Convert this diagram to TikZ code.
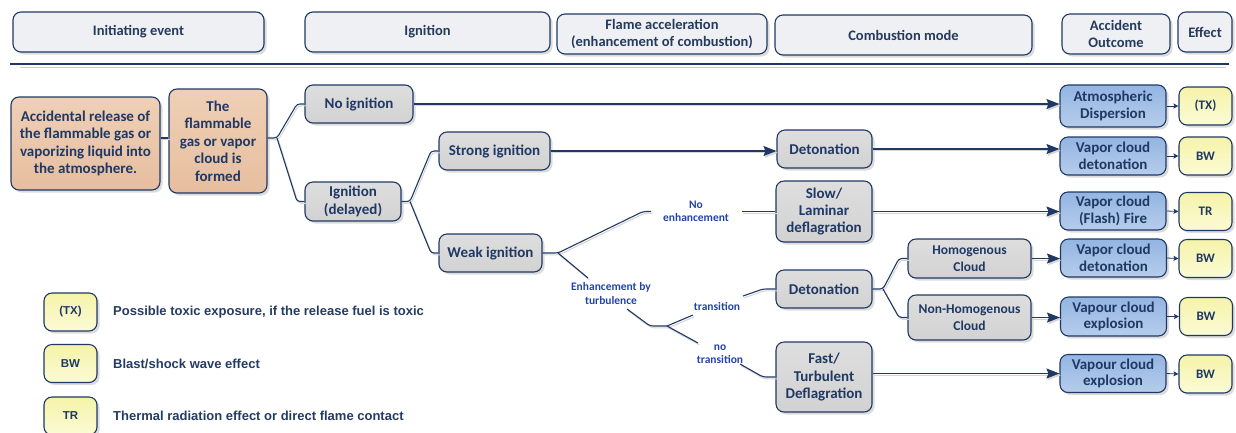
\documentclass[tikz,border=0pt]{standalone}
\usepackage{fontspec}
\setmainfont{Carlito}
\newfontfamily\legendfont{Liberation Sans}
\usetikzlibrary{arrows.meta,shadows}

\definecolor{navy}{HTML}{1F3864}
\definecolor{hdrtext}{HTML}{263A5C}
\definecolor{hdrfill}{HTML}{EEF0F4}
\definecolor{peachtop}{HTML}{EFD0B6}
\definecolor{peachbot}{HTML}{E6BE9F}
\definecolor{greytop}{HTML}{DEDEDE}
\definecolor{greybot}{HTML}{D2D2D2}
\definecolor{bluetop}{HTML}{93B5E2}
\definecolor{bluebot}{HTML}{B6CDEB}
\definecolor{yeltop}{HTML}{F5F3A8}
\definecolor{yelbot}{HTML}{FBFBD6}
\definecolor{lblblue}{HTML}{2244AA}
\definecolor{legtext}{HTML}{243B63}

\tikzset{
  basebox/.style={draw=navy, line width=1.1pt, rounded corners=8pt, align=center,
    inner sep=0pt, text=navy,
    drop shadow={shadow xshift=2.5pt, shadow yshift=-2.5pt, fill=black!25, opacity=.55}},
  hdr/.style={basebox, fill=hdrfill, text=hdrtext, minimum height=40pt,
    font=\bfseries\fontsize{14.5}{16.8}\selectfont},
  peach/.style={basebox, top color=peachtop, bottom color=peachbot,
    font=\bfseries\fontsize{15}{17.4}\selectfont},
  grey/.style={basebox, top color=greytop, bottom color=greybot,
    font=\bfseries\fontsize{15}{17.4}\selectfont},
  greysm/.style={grey, font=\bfseries\fontsize{13.5}{16.5}\selectfont},
  outc/.style={basebox, top color=bluetop, bottom color=bluebot, minimum width=106pt,
    font=\bfseries\fontsize{15}{16.8}\selectfont},
  eff/.style={basebox, top color=yeltop, bottom color=yelbot, minimum width=53pt,
    minimum height=38pt, font=\bfseries\fontsize{13}{15}\selectfont},
  legbox/.style={eff, font=\legendfont\bfseries\fontsize{11.5}{13}\selectfont},
  legtxt/.style={anchor=west, inner sep=0pt, text=legtext,
    font=\legendfont\bfseries\fontsize{13}{15}\selectfont},
  lbl/.style={text=lblblue, align=center, inner sep=1pt,
    font=\bfseries\fontsize{11.5}{13.6}\selectfont},
  conn/.style={draw=navy, line width=1.1pt, rounded corners=3pt,
    preaction={draw=black!16, line width=1.1pt,
      transform canvas={xshift=1.3pt, yshift=-1.8pt}}},
  arr/.style={conn, -{Stealth[length=13pt,width=10pt,inset=2pt]}},
  sarr/.style={draw=navy, line width=0.8pt, -{Stealth[length=5pt,width=5pt,inset=1pt]}}
}

\begin{document}
\begin{tikzpicture}[x=1pt,y=-1pt]
\useasboundingbox (0,0) rectangle (1236,432);

% column headings
\node[hdr, minimum width=251pt] (hInit)  at (138.5,32) {Initiating event};
\node[hdr, minimum width=245pt] (hIgn)   at (427.5,32) {Ignition};
\node[hdr, minimum width=210pt] (hFlame) at (662,34)   {Flame acceleration\\(enhancement of combustion)};
\node[hdr, minimum width=257pt] (hComb)  at (903.5,35) {Combustion mode};
\node[hdr, minimum width=108pt] (hOut)   at (1116,34)  {Accident\\Outcome};
\node[hdr, minimum width=54pt]  (hEff)   at (1205,32)  {Effect};

% separator rule
\coordinate (r1) at (10,64);   \coordinate (r2) at (1229,64);
\coordinate (s1) at (20,67.5); \coordinate (s2) at (1226,67.5);
\draw[black!20, line width=1pt] (s1) -- (s2);
\draw[navy, line width=1.1pt] (r1) -- (r2);

% event tree nodes
\node[peach, minimum width=149pt, minimum height=93pt] (release) at (85.5,143.5)
  {Accidental release of\\the flammable gas or\\vaporizing liquid into\\the atmosphere.};
\node[peach, minimum width=98pt, minimum height=104pt] (flam) at (218,141)
  {The\\flammable\\gas or vapor\\cloud is\\formed};

\node[grey, minimum width=108pt, minimum height=38pt] (noign)  at (359,104)   {No ignition};
\node[grey, minimum width=96pt,  minimum height=39pt] (igndel) at (353,201.5) {Ignition\\(delayed)};
\node[grey, minimum width=111pt, minimum height=38pt] (strong) at (494.5,151) {Strong ignition};
\node[grey, minimum width=103pt, minimum height=38pt] (weak)   at (490.5,253) {Weak ignition};

\node[grey, minimum width=95pt, minimum height=38pt] (det1) at (824.5,149)   {Detonation};
\node[grey, minimum width=96pt, minimum height=61pt] (slow) at (824,211.5)   {Slow/\\Laminar\\deflagration};
\node[grey, minimum width=96pt, minimum height=38pt] (det2) at (824,289)     {Detonation};
\node[grey, minimum width=96pt, minimum height=70pt] (fast) at (824,377)     {Fast/\\Turbulent\\Deflagration};

\node[greysm, minimum width=123pt, minimum height=39pt] (homo)    at (969.5,258.5) {Homogenous\\Cloud};
\node[greysm, minimum width=123pt, minimum height=45pt] (nonhomo) at (969.5,317.5) {Non-Homogenous\\Cloud};

% accident outcomes
\node[outc, minimum height=42pt] (out1) at (1113,106)    {Atmospheric\\Dispersion};
\node[outc, minimum height=38pt] (out2) at (1113,156)    {Vapor cloud\\detonation};
\node[outc, minimum height=38pt] (out3) at (1113,211)    {Vapor cloud\\(Flash) Fire};
\node[outc, minimum height=38pt] (out4) at (1113.5,258)  {Vapor cloud\\detonation};
\node[outc, minimum height=39pt] (out5) at (1113.5,316.5){Vapour cloud\\explosion};
\node[outc, minimum height=38pt] (out6) at (1113,373.5)  {Vapour cloud\\explosion};

% effects
\node[eff] (eff1) at (1205.5,106)   {(TX)};
\node[eff] (eff2) at (1205.5,156)   {BW};
\node[eff] (eff3) at (1205.5,211.5) {TR};
\node[eff] (eff4) at (1205.5,258.5) {BW};
\node[eff] (eff5) at (1206,316.5)   {BW};
\node[eff] (eff6) at (1205.5,374)   {BW};

% branch labels
\node[lbl] (noenh) at (696,211.5) {No\\enhancement};
\node[lbl] (enh)   at (611,293.5) {Enhancement by\\turbulence};
\node[lbl] (trans) at (717,306)   {transition};
\node[lbl] (notr)  at (720,354)   {no\\transition};

% release -> cloud, cloud -> ignition branches
\coordinate (fb) at (277,138);
\draw[conn] (release.east |- fb) -- (flam.west |- fb);
\draw[conn] (flam.east |- fb) -- (fb) -- (297,104) -- (noign.west);
\draw[conn] (fb) -- (297,201.5) -- (igndel.west);

% delayed ignition branches
\coordinate (ib) at (410,201.5);
\draw[conn] (igndel.east) -- (ib) -- (431,151) -- (strong.west);
\draw[conn] (ib) -- (431,253) -- (weak.west);

% weak ignition branches
\coordinate (wb)  at (558,253);
\coordinate (ne1) at (643,211.5);
\coordinate (ne2) at (651,211.5);
\coordinate (ne3) at (742,211.5);
\draw[conn] (weak.east) -- (wb) -- (ne1) -- (ne2);
\draw[conn] (ne3) -- (slow.west);
\coordinate (et1) at (588,278);
\coordinate (et2) at (627,309);
\coordinate (tb0) at (650,326);
\coordinate (tb)  at (667,326);
\draw[conn] (wb) -- (et1);
\draw[conn] (et2) -- (tb0) -- (tb);
\coordinate (tr1) at (693,315);
\coordinate (tr2) at (743,296);
\coordinate (tr3) at (763,289);
\draw[conn] (tb) -- (tr1);
\draw[conn] (tr2) -- (tr3) -- (det2.west);
\coordinate (nt1) at (698,343);
\coordinate (nt2) at (740,364);
\coordinate (nt3) at (763,377);
\draw[conn] (tb) -- (nt1);
\draw[conn] (nt2) -- (nt3) -- (fast.west);

% detonation cloud split
\coordinate (db) at (883,289);
\draw[conn] (det2.east) -- (db) -- (899,258.5) -- (homo.west);
\draw[conn] (db) -- (899,317.5) -- (nonhomo.west);

% arrows to outcomes
\draw[arr] (noign.east) -- (noign.east -| out1.west);
\draw[arr] (strong.east) -- (strong.east -| det1.west);
\draw[arr] (det1.east) -- (det1.east -| out2.west);
\draw[arr] (slow.east) -- (slow.east -| out3.west);
\draw[arr] (homo.east) -- (homo.east -| out4.west);
\draw[arr] (nonhomo.east) -- (nonhomo.east -| out5.west);
\draw[arr] (out6.west -| fast.east) -- (out6.west);

% outcomes -> effects
\draw[sarr] (out1.east) -- (eff1.west);
\draw[sarr] (out2.east) -- (eff2.west);
\draw[sarr] (out3.east) -- (eff3.west);
\draw[sarr] (out4.east) -- (eff4.west);
\draw[sarr] (out5.east) -- (eff5.west);
\draw[sarr] (out6.east) -- (eff6.west);

% legend
\node[legbox] (lg1) at (70.5,312)   {(TX)};
\node[legbox] (lg2) at (70.5,363.5) {BW};
\node[legbox] (lg3) at (70.5,416)   {TR};
\node[legtxt] (lt1) at (113,312)   {Possible toxic exposure, if the release fuel is toxic};
\node[legtxt] (lt2) at (113,363.5) {Blast/shock wave effect};
\node[legtxt] (lt3) at (113,416)   {Thermal radiation effect or direct flame contact};
\end{tikzpicture}
\end{document}
